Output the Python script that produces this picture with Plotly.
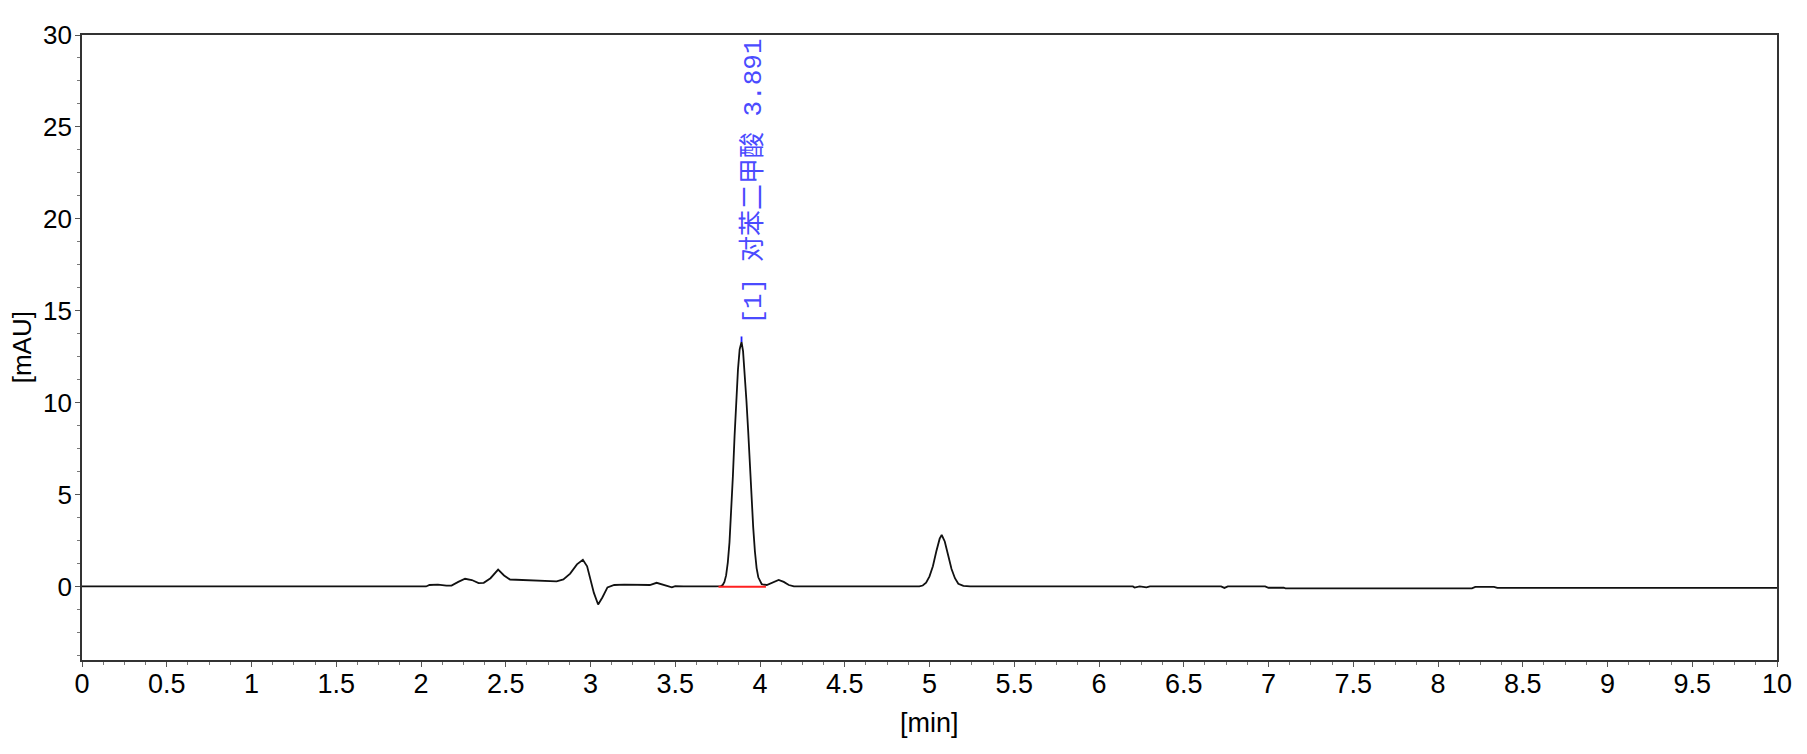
import plotly.graph_objects as go

# chromatogram (time in min, signal in mAU)
time_min = [0.0, 2.03, 2.05, 2.10, 2.15, 2.18, 2.22, 2.26, 2.30, 2.34, 2.37, 2.41, 2.455,
            2.49, 2.525, 2.60, 2.66, 2.74, 2.80, 2.84, 2.88, 2.92, 2.955, 2.98, 3.00,
            3.02, 3.045, 3.07, 3.10, 3.14, 3.20, 3.28, 3.35, 3.39, 3.43, 3.46, 3.48,
            3.50, 3.55, 3.74, 3.77, 3.78, 3.79, 3.80, 3.81, 3.82, 3.83, 3.84, 3.85,
            3.86, 3.87, 3.88, 3.891, 3.90, 3.91, 3.92, 3.93, 3.94, 3.95, 3.96, 3.97,
            3.98, 3.99, 4.01, 4.04, 4.07, 4.09, 4.11, 4.14, 4.17, 4.20, 4.94, 4.96,
            4.98, 5.00, 5.02, 5.04, 5.06, 5.072, 5.09, 5.11, 5.13, 5.15, 5.17, 5.20,
            5.24, 6.20, 6.21, 6.24, 6.28, 6.30, 6.72, 6.74, 6.76, 6.98, 7.00, 7.09,
            7.10, 8.20, 8.22, 8.33, 8.35, 10.0]
signal_mau = [0.0, 0.0, 0.08, 0.1, 0.05, 0.05, 0.25, 0.42, 0.35, 0.18, 0.2, 0.45, 0.92,
              0.6, 0.38, 0.35, 0.3, 0.27, 0.28, 0.38, 0.7, 1.2, 1.45, 1.1, 0.4,
              -0.35, -0.98, -0.6, -0.05, 0.08, 0.1, 0.07, 0.08, 0.2, 0.1, 0.03, -0.05,
              0.02, 0.0, 0.0, 0.02, 0.08, 0.25, 0.6, 1.3, 2.4, 4.0, 6.0, 8.2,
              10.2, 11.8, 12.9, 13.3, 12.8, 11.6, 10.1, 8.5, 6.6, 4.8, 3.2, 1.9,
              1.0, 0.5, 0.12, 0.08, 0.2, 0.32, 0.36, 0.25, 0.08, 0.0, 0.0, 0.05,
              0.2, 0.55, 1.1, 1.9, 2.6, 2.8, 2.45, 1.7, 0.95, 0.45, 0.15, 0.03,
              0.0, 0.0, -0.06, 0.0, -0.05, 0.0, 0.0, -0.08, 0.0, 0.0, -0.07, -0.07,
              -0.1, -0.1, -0.02, -0.02, -0.08, -0.08]

# integration baseline under the main peak
base_x = [3.755, 4.035]
base_y = [-0.02, -0.02]

# apex marker and label
apex_x = [3.891, 3.891]
apex_y = [13.3, 13.6]
peak_label = "[1] 对苯二甲酸 3.891"

x_ticks = [i * 0.5 for i in range(21)]
x_labels = ["0", "0.5", "1", "1.5", "2", "2.5", "3", "3.5", "4", "4.5", "5",
            "5.5", "6", "6.5", "7", "7.5", "8", "8.5", "9", "9.5", "10"]
y_ticks = [0, 5, 10, 15, 20, 25, 30]

fig = go.Figure()
fig.add_trace(go.Scatter(x=time_min, y=signal_mau, mode="lines",
                         line=dict(color="#111111", width=1.8), showlegend=False))
fig.add_trace(go.Scatter(x=base_x, y=base_y, mode="lines",
                         line=dict(color="#ff2020", width=2), showlegend=False))
fig.add_trace(go.Scatter(x=apex_x, y=apex_y, mode="lines",
                         line=dict(color="#2020ff", width=1.8), showlegend=False))

fig.add_annotation(x=3.891, y=30, text=peak_label, textangle=-90, showarrow=False,
                   xanchor="center", yanchor="top", xshift=11, yshift=-2,
                   font=dict(family="Liberation Mono, Noto Sans CJK SC", size=26,
                             color="#4b4bff"))
fig.add_annotation(xref="paper", yref="paper", x=-0.0355, y=0.5, text="[mAU]",
                   textangle=-90, showarrow=False, xanchor="center", yanchor="middle",
                   font=dict(family="Liberation Sans", size=26, color="black"))
fig.add_annotation(xref="paper", yref="paper", x=0.5, y=-0.1, text="[min]",
                   showarrow=False, xanchor="center", yanchor="middle",
                   font=dict(family="Liberation Sans", size=27, color="black"))

fig.update_xaxes(range=[0, 10], tickvals=x_ticks, ticktext=x_labels,
                 showgrid=False, zeroline=False, showline=True, mirror=True,
                 linecolor="#333333", linewidth=1.6, ticks="outside", ticklen=5,
                 tickcolor="#555555", ticklabelstandoff=-6,
                 tickfont=dict(family="Liberation Sans", size=27, color="black"),
                 minor=dict(dtick=0.125, tick0=0, ticks="outside", ticklen=3,
                            tickcolor="#777777"))
fig.update_yaxes(range=[-4, 30], tickvals=y_ticks, showgrid=False, zeroline=False,
                 showline=True, mirror=True, linecolor="#333333", linewidth=1.6,
                 ticks="outside", ticklen=5, tickcolor="#555555", ticklabelstandoff=-2,
                 tickfont=dict(family="Liberation Sans", size=26, color="black"),
                 minor=dict(dtick=1.25, tick0=0, ticks="outside", ticklen=3,
                            tickcolor="#777777"))

# page body adds 8px offset, so margins are trimmed to keep the plot box in place
fig.update_layout(width=1799, height=746, plot_bgcolor="white", paper_bgcolor="white",
                  margin=dict(l=74, r=30, t=22, b=94), showlegend=False)

fig.write_html("out.html")
